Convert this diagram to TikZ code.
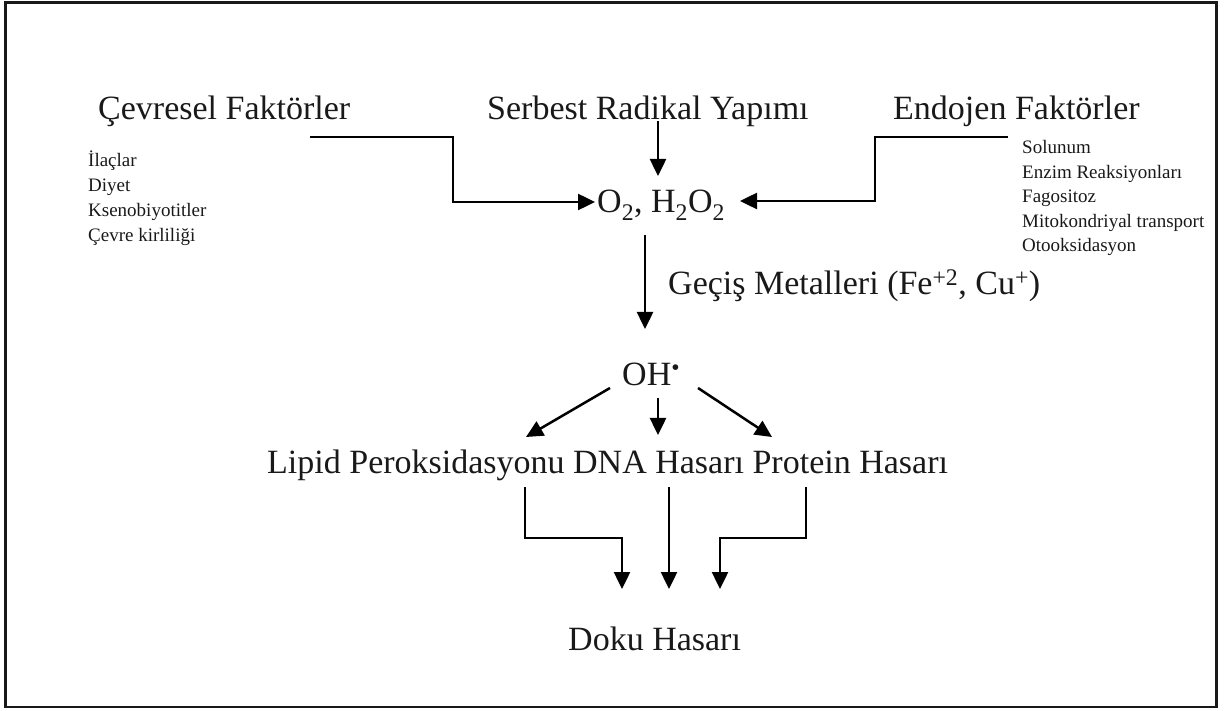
\documentclass[tikz,border=0pt]{standalone}
\usepackage{fontspec}
\setmainfont{Liberation Serif}
\usetikzlibrary{arrows.meta}
\begin{document}
\begin{tikzpicture}[x=1pt,y=-1pt,
  big/.style={inner sep=0pt,anchor=base west,font=\fontsize{34}{40}\selectfont,text=black!90},
  small/.style={inner sep=0pt,anchor=base west,font=\fontsize{19}{24}\selectfont,text=black!90},
  conn/.style={line width=2.5pt,-{Triangle[length=17pt,width=16pt]}},
  frame/.style={line width=2.6pt,draw=black!90}]
\useasboundingbox (0,0) rectangle (1227,711);
\draw[frame] (5.5,2.5) rectangle (1216.5,707);
% texts
\node[big] (cev) at (98,120) {Çevresel Faktörler};
\node[big] (ser) at (487,120) {Serbest Radikal Yapımı};
\node[big] (end) at (893,120) {Endojen Faktörler};
\node[small] (c1) at (88,167) {İlaçlar};
\node[small] (c2) at (88,192) {Diyet};
\node[small] (c3) at (88,217) {Ksenobiyotitler};
\node[small] (c4) at (88,242) {Çevre kirliliği};
\node[small] (e1) at (1022,154) {Solunum};
\node[small] (e2) at (1022,178.5) {Enzim Reaksiyonları};
\node[small] (e3) at (1022,203) {Fagositoz};
\node[small] (e4) at (1022,227.5) {Mitokondriyal transport};
\node[small] (e5) at (1022,252) {Otooksidasyon};
\node[big] (ox) at (597,213) {O\textsubscript{2}, H\textsubscript{2}O\textsubscript{2}};
\node[big] (gec) at (668,295) {Geçiş Metalleri (Fe\textsuperscript{+2}, Cu\textsuperscript{+})};
\node[big] (oh) at (622,385) {OH\textsuperscript{\textbullet}};
\node[big] (dam) at (267,473) {Lipid Peroksidasyonu DNA Hasarı Protein Hasarı};
\node[big] (doku) at (568,650) {Doku Hasarı};
% connector points
\coordinate (l0) at (310,137);
\coordinate (l1) at (453,137);
\coordinate (l2) at (453,202);
\coordinate (lt) at (595,202);
\coordinate (r0) at (1008,137);
\coordinate (r1) at (875,137);
\coordinate (r2) at (875,201);
\coordinate (rt) at (740,201);
\coordinate (s0) at (658,121);
\coordinate (st) at (658,176);
\coordinate (g0) at (645,235);
\coordinate (gt) at (645,329);
\coordinate (o1) at (610,388);
\coordinate (o1t) at (526,437);
\coordinate (o2) at (658,398);
\coordinate (o2t) at (658,435);
\coordinate (o3) at (698,388);
\coordinate (o3t) at (772,437);
\coordinate (b1) at (525,487);
\coordinate (b1m) at (525,538);
\coordinate (b1n) at (622,538);
\coordinate (b1t) at (622,589);
\coordinate (b2) at (669,487);
\coordinate (b2t) at (669,589);
\coordinate (b3) at (806,487);
\coordinate (b3m) at (806,538);
\coordinate (b3n) at (720,538);
\coordinate (b3t) at (720,589);
% connectors
\draw[conn] (l0) -- (l1) -- (l2) -- (lt);
\draw[conn] (r0) -- (r1) -- (r2) -- (rt);
\draw[conn] (s0) -- (st);
\draw[conn] (g0) -- (gt);
\draw[conn] (o1) -- (o1t);
\draw[conn] (o2) -- (o2t);
\draw[conn] (o3) -- (o3t);
\draw[conn] (b1) -- (b1m) -- (b1n) -- (b1t);
\draw[conn] (b2) -- (b2t);
\draw[conn] (b3) -- (b3m) -- (b3n) -- (b3t);
\end{tikzpicture}
\end{document}
